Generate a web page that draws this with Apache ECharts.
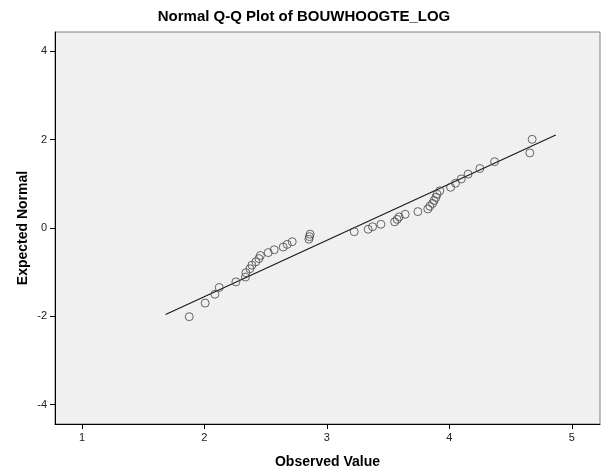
<!DOCTYPE html>
<html>
<head>
<meta charset="utf-8">
<script src="https://cdn.jsdelivr.net/npm/echarts@6/dist/echarts.min.js"></script>
<style>
html,body{margin:0;padding:0;background:#fff;}
#chart{width:608px;height:470px;}
</style>
</head>
<body>
<div id="chart"></div>
<script>
// Observed values (sorted) and their expected normal scores
var observed = [1.876, 2.006, 2.086, 2.121, 2.257, 2.335, 2.339, 2.371, 2.388, 2.420,
                2.445, 2.457, 2.521, 2.570, 2.643, 2.676, 2.717, 2.853, 2.858, 2.863,
                3.223, 3.337, 3.373, 3.441, 3.553, 3.574, 3.590, 3.639, 3.743, 3.824,
                3.841, 3.863, 3.876, 3.890, 3.900, 3.922, 4.010, 4.050, 4.097, 4.153,
                4.249, 4.369, 4.657, 4.676];
var expected = [-2.009, -1.701, -1.501, -1.347, -1.221, -1.111, -1.013, -0.923, -0.842, -0.765,
                -0.692, -0.623, -0.557, -0.493, -0.431, -0.371, -0.311, -0.253, -0.196, -0.140,
                -0.084, -0.028, 0.028, 0.084, 0.140, 0.196, 0.253, 0.311, 0.371, 0.431,
                0.493, 0.557, 0.623, 0.692, 0.765, 0.842, 0.923, 1.013, 1.111, 1.221,
                1.347, 1.501, 1.701, 2.009];
// Reference line endpoints
var lineX = [1.683, 4.869];
var lineY = [-1.961, 2.108];
// Tick labels
var xTicks = [1, 2, 3, 4, 5];
var yTicks = [-4, -2, 0, 2, 4];

var title = 'Normal Q-Q Plot of BOUWHOOGTE_LOG';
var xName = 'Observed Value';
var yName = 'Expected Normal';

var points = observed.map(function (v, i) { return [v, expected[i]]; });
var lineData = lineX.map(function (v, i) { return [v, lineY[i]]; });

var chart = echarts.init(document.getElementById('chart'), null, {renderer: 'canvas'});
var FONT = 'Liberation Sans, Arial, sans-serif';
chart.setOption({
  animation: false,
  backgroundColor: '#ffffff',
  title: {
    text: title, left: 'center', top: 4,
    textStyle: {fontFamily: FONT, fontSize: 15, fontWeight: 'bold', color: '#000'}
  },
  grid: {
    left: 55, right: 8, top: 32, bottom: 46,
    containLabel: false, outerBoundsMode: 'none',
    show: true, backgroundColor: '#f0f0f0', borderColor: '#808080', borderWidth: 1
  },
  xAxis: {
    type: 'value', min: 0.78, max: 5.23,
    name: xName, nameLocation: 'middle', nameGap: 31, nameMoveOverlap: false,
    nameTextStyle: {fontFamily: FONT, fontSize: 14, fontWeight: 'bold', color: '#000'},
    axisLine: {show: true, onZero: false, lineStyle: {color: '#000', width: 1}},
    axisTick: {show: true, inside: false, length: 5, customValues: xTicks, lineStyle: {color: '#000'}},
    axisLabel: {customValues: xTicks, margin: 8, fontFamily: FONT, fontSize: 11, color: '#222'},
    splitLine: {show: false}
  },
  yAxis: {
    type: 'value', min: -4.44, max: 4.44,
    name: yName, nameLocation: 'middle', nameGap: 25, nameRotate: 90, nameMoveOverlap: false,
    nameTextStyle: {fontFamily: FONT, fontSize: 14, fontWeight: 'bold', color: '#000'},
    axisLine: {show: true, onZero: false, lineStyle: {color: '#000', width: 1}},
    axisTick: {show: true, inside: false, length: 5, customValues: yTicks, lineStyle: {color: '#000'}},
    axisLabel: {customValues: yTicks, margin: 8, fontFamily: FONT, fontSize: 11, color: '#222'},
    splitLine: {show: false}
  },
  series: [
    {
      type: 'line', data: lineData, symbol: 'none', silent: true,
      lineStyle: {color: '#1a1a1a', width: 1.2}, z: 2
    },
    {
      type: 'scatter', data: points, symbol: 'circle', symbolSize: 8,
      itemStyle: {color: 'rgba(0,0,0,0)', borderColor: '#444', borderWidth: 1}, z: 3
    }
  ]
});
</script>
</body>
</html>
